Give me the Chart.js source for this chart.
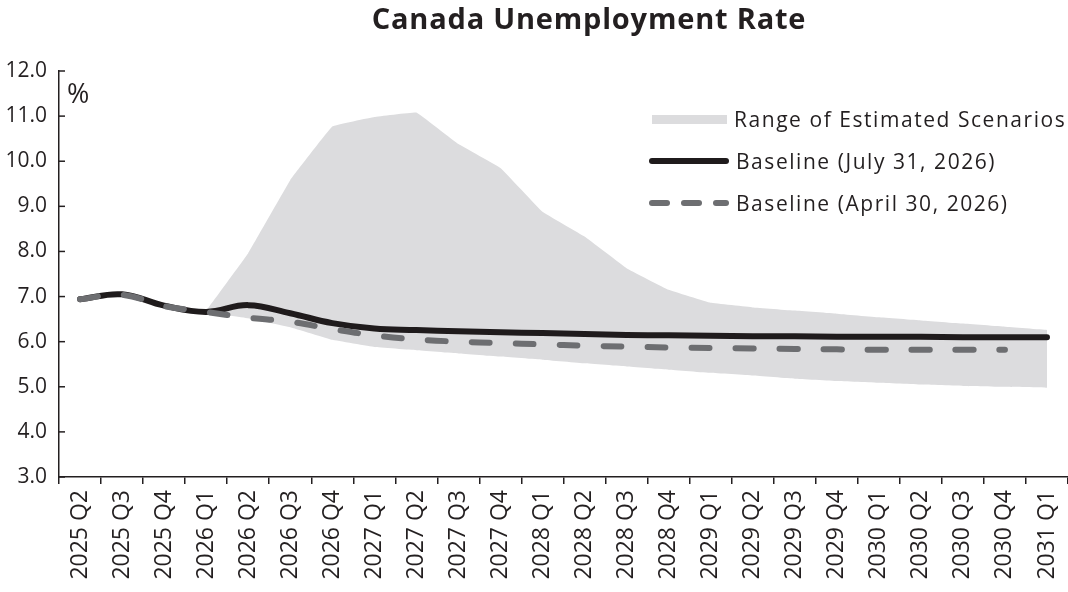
<!DOCTYPE html>
<html>
<head>
<meta charset="utf-8">
<title>Canada Unemployment Rate</title>
<script src="https://cdn.jsdelivr.net/npm/chart.js@4.4.1/dist/chart.umd.min.js"></script>
<style>
    html, body { margin: 0; padding: 0; background: #fff; overflow: hidden; }
    #wrap { position: relative; width: 1068px; height: 592px; font-family: "Open Sans", sans-serif; color: #231f20; }
    #chartBox { position: absolute; left: 0; top: 0; width: 1068px; height: 592px; }
    .title { position: absolute; left: 589px; top: -1px; transform: translateX(-50%); white-space: nowrap;
             font-size: 29px; font-weight: 700; letter-spacing: 0.8px; line-height: 38px; }
    .unit { position: absolute; left: 67px; top: 76px; font-size: 27px; line-height: 34px; }
    .legend-row { position: absolute; left: 649px; height: 30px; display: flex; align-items: center; white-space: nowrap; }
    .legend-row span.txt { font-size: 21px; letter-spacing: 1.55px; margin-left: 7px; line-height: 30px; }
    .sw-band { width: 75px; height: 9px; background: #dcdcde; margin-left: 3px; }
    .sw-line { width: 80px; height: 6px; border-radius: 3px; background: #1f1b1c; }
    .sw-dash { width: 80px; height: 6px; display: flex; justify-content: space-between; }
    .sw-dash i { display: block; height: 6px; border-radius: 3px; background: #6d6e71; }
</style>
</head>
<body>
<div id="wrap">
    <div id="chartBox"><canvas id="myChart"></canvas></div>
    <div class="title">Canada Unemployment Rate</div>
    <div class="unit">%</div>
    <div class="legend-row" style="top:104px"><div class="sw-band"></div><span class="txt">Range of Estimated Scenarios</span></div>
    <div class="legend-row" style="top:146px"><div class="sw-line"></div><span class="txt">Baseline (July 31, 2026)</span></div>
    <div class="legend-row" style="top:188px">
        <div class="sw-dash"><i style="width:21px"></i><i style="width:21px"></i><i style="width:16px"></i></div>
        <span class="txt">Baseline (April 30, 2026)</span>
    </div>
</div>

<script>
const quarters = [
    "2025 Q2", "2025 Q3", "2025 Q4", "2026 Q1", "2026 Q2", "2026 Q3", "2026 Q4",
    "2027 Q1", "2027 Q2", "2027 Q3", "2027 Q4", "2028 Q1", "2028 Q2", "2028 Q3", "2028 Q4",
    "2029 Q1", "2029 Q2", "2029 Q3", "2029 Q4", "2030 Q1", "2030 Q2", "2030 Q3", "2030 Q4",
    "2031 Q1"
];

// baseline, July 31 2026
const baselineJuly = [
    6.94, 7.05, 6.80, 6.66, 6.81, 6.63, 6.41, 6.29, 6.26, 6.23, 6.21, 6.19,
    6.17, 6.15, 6.14, 6.13, 6.12, 6.12, 6.11, 6.11, 6.11, 6.10, 6.10, 6.10
];

// baseline, April 30 2026 (stops at 2030 Q4)
const baselineApril = [
    6.94, 7.04, 6.79, 6.66, 6.53, 6.44, 6.28, 6.14, 6.05, 6.00, 5.97, 5.94,
    5.91, 5.89, 5.87, 5.86, 5.85, 5.84, 5.83, 5.82, 5.82, 5.82, 5.82, null
];

// range of estimated scenarios
const rangeHigh = [
    null, null, null, 6.68, 7.96, 9.58, 10.77, 10.98, 11.08, 10.38, 9.85, 8.88,
    8.33, 7.63, 7.15, 6.86, 6.76, 6.69, 6.62, 6.54, 6.47, 6.40, 6.33, 6.26
];
const rangeLow = [
    null, null, null, 6.66, 6.52, 6.32, 6.04, 5.88, 5.81, 5.74, 5.67, 5.60,
    5.52, 5.45, 5.38, 5.31, 5.25, 5.18, 5.13, 5.09, 5.05, 5.02, 5.00, 4.98
];

const yTicks = ["3.0", "4.0", "5.0", "6.0", "7.0", "8.0", "9.0", "10.0", "11.0", "12.0"];

const ink = "#231f20";

// y ticks in the reference point into the plot area
const innerTicks = {
    id: "innerTicks",
    afterDraw(chart) {
        const ctx = chart.ctx;
        const y = chart.scales.y;
        ctx.save();
        ctx.strokeStyle = ink;
        ctx.lineWidth = 1.5;
        y.ticks.forEach(function (t) {
            const py = y.getPixelForValue(t.value);
            ctx.beginPath();
            ctx.moveTo(y.right, py);
            ctx.lineTo(y.right + 6, py);
            ctx.stroke();
        });
        ctx.restore();
    }
};

function createChart() {
    new Chart("myChart", {
        type: "line",
        data: {
            labels: quarters,
            datasets: [
                {
                    label: "Baseline (April 30, 2026)",
                    data: baselineApril,
                    borderColor: "#6d6e71",
                    borderWidth: 6,
                    borderDash: [18, 26],
                    borderCapStyle: "round",
                    tension: 0.4,
                    pointRadius: 0,
                    fill: false,
                    order: 0
                },
                {
                    label: "Baseline (July 31, 2026)",
                    data: baselineJuly,
                    borderColor: "#1f1b1c",
                    borderWidth: 6,
                    borderCapStyle: "round",
                    tension: 0.4,
                    pointRadius: 0,
                    fill: false,
                    order: 1
                },
                {
                    label: "Range of Estimated Scenarios",
                    data: rangeHigh,
                    borderWidth: 0,
                    borderColor: "rgba(0,0,0,0)",
                    backgroundColor: "#dcdcde",
                    tension: 0.05,
                    pointRadius: 0,
                    fill: "+1",
                    order: 2
                },
                {
                    label: "range low",
                    data: rangeLow,
                    borderWidth: 0,
                    borderColor: "rgba(0,0,0,0)",
                    tension: 0.05,
                    pointRadius: 0,
                    fill: false,
                    order: 3
                }
            ]
        },
        options: {
            responsive: true,
            maintainAspectRatio: false,
            animation: false,
            layout: { padding: { top: 71, right: 0, bottom: 0, left: 0 } },
            plugins: {
                legend: { display: false },
                title: { display: false },
                tooltip: { enabled: false }
            },
            scales: {
                x: {
                    offset: true,
                    grid: {
                        offset: true,
                        drawOnChartArea: false,
                        drawTicks: true,
                        tickLength: 7,
                        color: ink,
                        lineWidth: 1.5
                    },
                    border: { display: true, color: ink, width: 1.5 },
                    ticks: {
                        minRotation: 90,
                        maxRotation: 90,
                        autoSkip: false,
                        padding: 6,
                        color: ink,
                        font: { family: "Open Sans", size: 23 }
                    },
                    afterFit: function (scale) {
                        scale.height = 115;
                        scale.paddingLeft = 0;
                        scale.paddingRight = 0;
                    }
                },
                y: {
                    min: 3,
                    max: 12,
                    grid: { display: false, drawTicks: false },
                    border: { display: true, color: ink, width: 1.5 },
                    ticks: {
                        stepSize: 1,
                        padding: 12,
                        color: ink,
                        font: { family: "Open Sans", size: 21 },
                        callback: function (value) {
                            return yTicks[Math.round(value - 3)];
                        }
                    },
                    afterFit: function (scale) { scale.width = 59; }
                }
            }
        },
        plugins: [innerTicks]
    });
}

createChart();
</script>
</body>
</html>
